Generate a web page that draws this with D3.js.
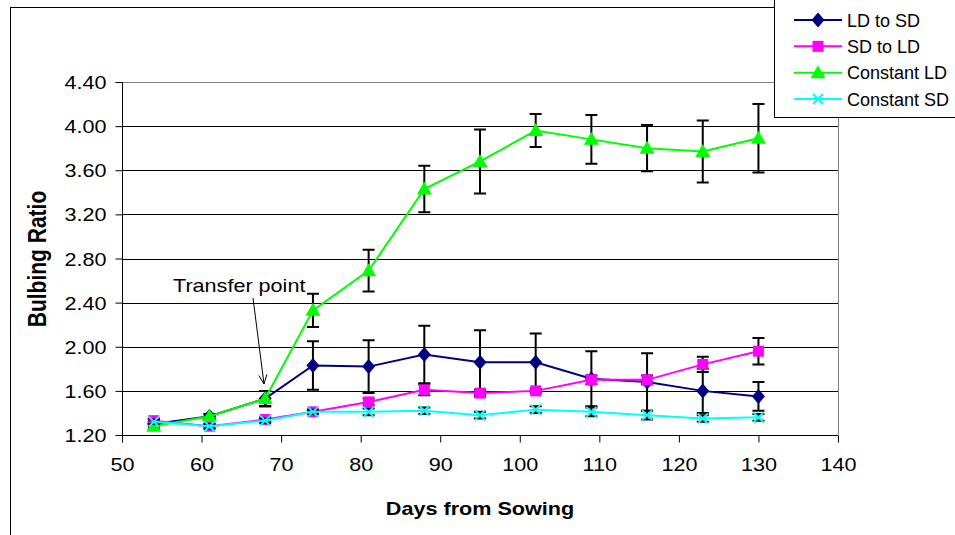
<!DOCTYPE html>
<html>
<head>
<meta charset="utf-8">
<script src="https://cdn.jsdelivr.net/npm/d3@7"></script>
<style>
  html, body { margin: 0; padding: 0; background: #fff; }
  svg { display: block; }
  text { font-family: Arial, "Liberation Sans", sans-serif; fill: #000; }
</style>
</head>
<body>
<svg id="chart" width="955" height="535"></svg>
<script>
// Sampling dates (days from sowing)
const days = [54, 61, 68, 74, 81, 88, 95, 102, 109, 116, 123, 130];

// Bulbing ratio means and error half-widths per treatment
const ldToSd     = [1.30, 1.37, 1.53, 1.83, 1.82, 1.93, 1.86, 1.86, 1.71, 1.68, 1.60, 1.55];
const ldToSdErr  = [0.02, 0.02, 0.07, 0.22, 0.24, 0.26, 0.29, 0.26, 0.25, 0.26, 0.20, 0.13];
const sdToLd     = [1.33, 1.28, 1.34, 1.41, 1.50, 1.61, 1.58, 1.60, 1.70, 1.70, 1.84, 1.96];
const sdToLdErr  = [0.02, 0.02, 0.02, 0.02, 0.03, 0.05, 0.03, 0.02, 0.04, 0.04, 0.07, 0.12];
const constLd    = [1.28, 1.37, 1.53, 2.33, 2.69, 3.43, 3.68, 3.96, 3.88, 3.80, 3.77, 3.89];
const constLdErr = [0.02, 0.02, 0.07, 0.15, 0.19, 0.21, 0.29, 0.15, 0.22, 0.21, 0.28, 0.31];
const constSd    = [1.32, 1.28, 1.33, 1.41, 1.41, 1.42, 1.38, 1.43, 1.41, 1.38, 1.35, 1.36];
const constSdErr = [0.02, 0.02, 0.02, 0.02, 0.03, 0.03, 0.03, 0.03, 0.04, 0.04, 0.03, 0.03];

const seriesNames = ["LD to SD", "SD to LD", "Constant LD", "Constant SD"];

// Axis ticks
const xTicks = [50, 60, 70, 80, 90, 100, 110, 120, 130, 140];
const yTicks = [1.20, 1.60, 2.00, 2.40, 2.80, 3.20, 3.60, 4.00, 4.40];

const series = [
  { name: seriesNames[0], values: ldToSd, err: ldToSdErr, color: "#000080", marker: "diamond" },
  { name: seriesNames[1], values: sdToLd, err: sdToLdErr, color: "#FF00FF", marker: "square" },
  { name: seriesNames[2], values: constLd, err: constLdErr, color: "#00FF00", marker: "triangle" },
  { name: seriesNames[3], values: constSd, err: constSdErr, color: "#00FFFF", marker: "cross" }
];

const svg = d3.select("#chart");
const plot = { left: 122, right: 838, top: 82, bottom: 435 };

const x = d3.scaleLinear().domain([50, 140]).range([plot.left, plot.right]);
const y = d3.scaleLinear().domain([1.2, 4.4]).range([plot.bottom, plot.top]);

// Chart frame
svg.append("rect")
  .attr("x", 10.5).attr("y", 7.5).attr("width", 1000).attr("height", 600)
  .attr("fill", "#fff").attr("stroke", "#000").attr("stroke-width", 1);

// Plot-area outline (top and right edges)
svg.append("path")
  .attr("d", `M${plot.left},${plot.top + 0.5}H${plot.right + 0.5}V${plot.bottom}`)
  .attr("fill", "none").attr("stroke", "#808080").attr("stroke-width", 1);

// Horizontal gridlines
svg.append("g").selectAll("line")
  .data(yTicks.slice(1, -1))
  .join("line")
  .attr("x1", plot.left).attr("x2", plot.right)
  .attr("y1", d => Math.round(y(d)) + 0.5).attr("y2", d => Math.round(y(d)) + 0.5)
  .attr("stroke", "#000").attr("stroke-width", 1);

// Text horizontally widened like the rest of the figure
function wideText(g, str, px, py, anchor, size, weight, sx) {
  return g.append("text")
    .attr("transform", `translate(${px},${py}) scale(${sx},1)`)
    .attr("text-anchor", anchor)
    .attr("font-size", size)
    .attr("font-weight", weight)
    .text(str);
}

// Y axis
const yAxis = d3.axisLeft(y).tickValues(yTicks).tickSize(7).tickPadding(0).tickFormat(d3.format(".2f"));
const gy = svg.append("g").attr("transform", `translate(${plot.left + 0.5},0)`).call(yAxis);
gy.select(".domain").attr("stroke", "#000").attr("d", `M0,${plot.top}V${plot.bottom}`);
gy.selectAll(".tick line").attr("stroke", "#000");
gy.selectAll(".tick text").remove();
gy.selectAll(".tick").each(function (d) {
  wideText(d3.select(this), d3.format(".2f")(d), -16, 6.5, "end", 18, "normal", 1.2);
});

// X axis
const xAxis = d3.axisBottom(x).tickValues(xTicks).tickSize(7).tickPadding(0).tickFormat(d3.format("d"));
const gx = svg.append("g").attr("transform", `translate(0,${plot.bottom + 0.5})`).call(xAxis);
gx.select(".domain").attr("stroke", "#000").attr("d", `M${plot.left},0H${plot.right}`);
gx.selectAll(".tick line").attr("stroke", "#000");
gx.selectAll(".tick text").remove();
gx.selectAll(".tick").each(function (d) {
  wideText(d3.select(this), String(d), 0, 35, "middle", 18, "normal", 1.2);
});

// Axis titles
wideText(svg, "Days from Sowing", 480, 515, "middle", 18, "bold", 1.2);
svg.append("text")
  .attr("transform", `translate(46,259) rotate(-90) scale(1,1.2)`)
  .attr("text-anchor", "middle")
  .attr("font-size", 21)
  .attr("font-weight", "bold")
  .text("Bulbing Ratio");

// Marker shapes
function drawMarker(g, type, color, cx, cy) {
  if (type === "diamond") {
    g.append("path").attr("d", `M${cx},${cy - 7.5}L${cx + 6.5},${cy}L${cx},${cy + 7.5}L${cx - 6.5},${cy}Z`)
      .attr("fill", color);
  } else if (type === "square") {
    g.append("rect").attr("x", cx - 5.5).attr("y", cy - 5.5).attr("width", 11).attr("height", 11)
      .attr("fill", color);
  } else if (type === "triangle") {
    g.append("path").attr("d", `M${cx},${cy - 7.5}L${cx + 7.5},${cy + 5.5}L${cx - 7.5},${cy + 5.5}Z`)
      .attr("fill", color);
  } else {
    g.append("path").attr("d", `M${cx - 5},${cy - 5}L${cx + 5},${cy + 5}M${cx + 5},${cy - 5}L${cx - 5},${cy + 5}`)
      .attr("stroke", color).attr("stroke-width", 2).attr("fill", "none");
  }
}

const line = d3.line().x((d, i) => x(days[i])).y(d => y(d));

series.forEach(s => {
  const g = svg.append("g");
  // Error bars
  s.values.forEach((v, i) => {
    const cx = x(days[i]);
    const y1 = y(v + s.err[i]), y2 = y(v - s.err[i]);
    g.append("path")
      .attr("d", `M${cx},${y1}V${y2}M${cx - 6},${y1}H${cx + 6}M${cx - 6},${y2}H${cx + 6}`)
      .attr("stroke", "#000").attr("stroke-width", 2).attr("fill", "none");
  });
  // Series line
  g.append("path").datum(s.values).attr("d", line)
    .attr("fill", "none").attr("stroke", s.color).attr("stroke-width", 2);
  // Markers
  s.values.forEach((v, i) => drawMarker(g, s.marker, s.color, x(days[i]), y(v)));
});

// Transfer point annotation
wideText(svg, "Transfer point", 173, 292, "start", 18, "normal", 1.2);
const tip = [264, 384], tail = [253, 298];
const ang = Math.atan2(tip[1] - tail[1], tip[0] - tail[0]);
const ah = 10, spread = 0.42;
svg.append("path")
  .attr("d", `M${tail[0]},${tail[1]}L${tip[0]},${tip[1]}` +
    `M${tip[0] - ah * Math.cos(ang - spread)},${tip[1] - ah * Math.sin(ang - spread)}L${tip[0]},${tip[1]}` +
    `L${tip[0] - ah * Math.cos(ang + spread)},${tip[1] - ah * Math.sin(ang + spread)}`)
  .attr("fill", "none").attr("stroke", "#000").attr("stroke-width", 1);

// Legend
const lg = svg.append("g");
lg.append("rect").attr("x", 774.5).attr("y", -2).attr("width", 200).attr("height", 119.5)
  .attr("fill", "#fff").attr("stroke", "#000").attr("stroke-width", 1);
const legendRowY = d3.scalePoint().domain(seriesNames).range([20, 99]);
series.forEach(s => {
  const ly = legendRowY(s.name);
  lg.append("line").attr("x1", 794).attr("x2", 842).attr("y1", ly).attr("y2", ly)
    .attr("stroke", s.color).attr("stroke-width", 2);
  drawMarker(lg, s.marker, s.color, 818, ly);
  lg.append("text").attr("x", 847).attr("y", ly + 6.5).attr("font-size", 18).text(s.name);
});
</script>
</body>
</html>
